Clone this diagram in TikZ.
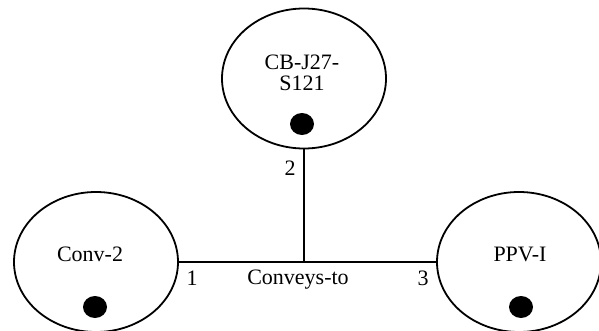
\documentclass[tikz,border=0pt]{standalone}
\usepackage{fontspec}
\setmainfont{Liberation Serif}
\usetikzlibrary{shapes.geometric}

\begin{document}
\begin{tikzpicture}[x=1pt, y=1pt, every node/.style={font=\fontsize{22}{21}\selectfont},
	entity/.style={draw, ellipse, line width=1.8pt, minimum width=164pt, minimum height=140pt, inner sep=0pt},
	dot/.style={fill, ellipse, minimum width=24pt, minimum height=22pt, inner sep=0pt}]
	\useasboundingbox (0,0) rectangle (599,330);
	\node[entity] (cb) at (304,251.5) {};
	\node[entity] (conv) at (96,68) {};
	\node[entity] (ppv) at (519,68) {};
	\node[align=center, inner sep=1pt] (cbname) at (302,257) {CB-J27-\\S121};
	\node (convname) at (90,76) {Conv-2};
	\node (ppvname) at (520,76) {PPV-I};
	\node[dot] (cbdot) at (302,206) {};
	\node[dot] (convdot) at (95,23) {};
	\node[dot] (ppvdot) at (521,23) {};
	\coordinate (meet) at (cb |- conv);
	\draw[line width=1.6pt] (conv) -- (ppv);
	\draw[line width=1.6pt] (cb) -- (meet);
	\node (rolea) at (192,52) {1};
	\node (roleb) at (290,162) {2};
	\node (rolec) at (423,52) {3};
	\node (rel) at (298,50) {Conveys-to};
\end{tikzpicture}
\end{document}
